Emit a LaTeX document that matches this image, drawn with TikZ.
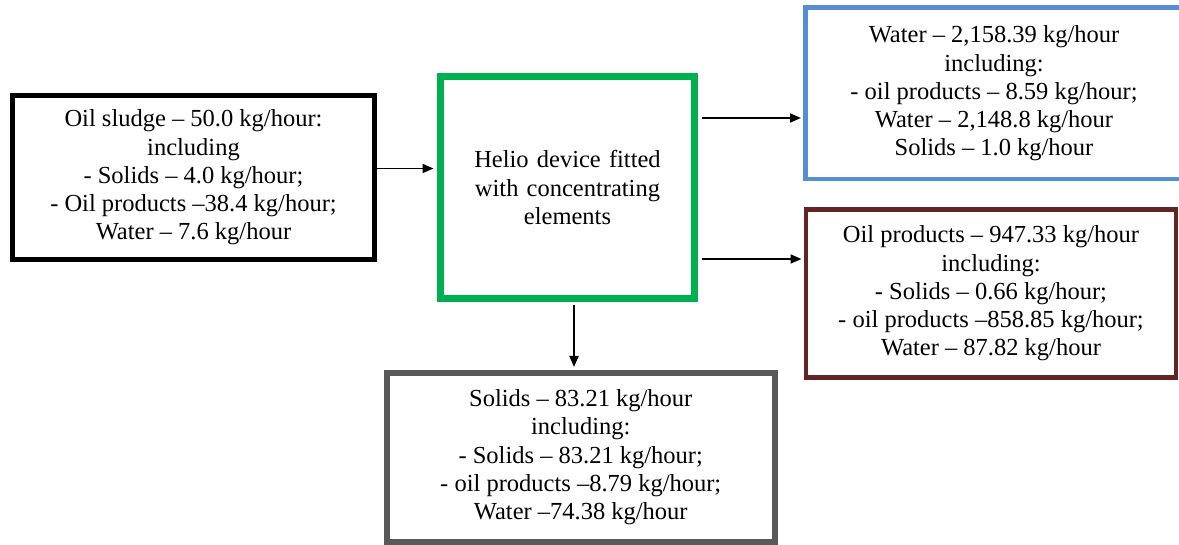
\documentclass[tikz,border=0pt]{standalone}
\usepackage{fontspec}
\setmainfont[Ligatures=TeX]{Liberation Serif}
\usetikzlibrary{arrows.meta}
\definecolor{boxgreen}{HTML}{00B050}
\definecolor{boxblue}{HTML}{558ED5}
\definecolor{boxred}{HTML}{632523}
\definecolor{boxgray}{HTML}{595959}
\tikzset{
  flowbox/.style={draw, fill=white, inner sep=0pt, align=center,
    font=\rmfamily\fontsize{24.5}{28.3}\selectfont},
  arr/.style={line width=1.8pt, -{Triangle[length=11pt,width=9pt]}},
}
\begin{document}
\begin{tikzpicture}[x=1pt,y=-1pt]
\useasboundingbox[fill=white] (0,0) rectangle (1179,545);
\node[flowbox, line width=5pt, minimum width=362pt, minimum height=164pt] (sludge) at (193.5,177.5)
  {Oil sludge – 50.0 kg/hour:\\including\\- Solids – 4.0 kg/hour;\\- Oil products –38.4 kg/hour;\\Water – 7.6 kg/hour};
\node[flowbox, draw=boxgreen, line width=7pt, minimum width=254pt, minimum height=222pt, text width=220pt] (helio) at (567.5,187.5)
  {Helio device fitted\\with concentrating\\elements};
\node[flowbox, draw=boxblue, line width=4.5pt, minimum width=377pt, minimum height=171.5pt] (water) at (994,93.5)
  {Water – 2,158.39 kg/hour\\including:\\- oil products – 8.59 kg/hour;\\Water – 2,148.8 kg/hour\\Solids – 1.0 kg/hour};
\node[flowbox, draw=boxred, line width=4.5pt, minimum width=370pt, minimum height=168pt] (oil) at (991,293.5)
  {Oil products – 947.33 kg/hour\\including:\\- Solids – 0.66 kg/hour;\\- oil products –858.85 kg/hour;\\Water – 87.82 kg/hour};
\node[flowbox, draw=boxgray, line width=6pt, minimum width=388.5pt, minimum height=168.5pt] (solids) at (580.75,457.25)
  {Solids – 83.21 kg/hour\\including:\\- Solids – 83.21 kg/hour;\\- oil products –8.79 kg/hour;\\Water –74.38 kg/hour};
\coordinate (a1) at ([yshift=9pt]sludge.east);
\coordinate (a2) at ([yshift=69.5pt]helio.east);
\coordinate (a3) at ([yshift=-71.5pt]helio.east);
\coordinate (a4) at ([xshift=6.5pt]helio.south);
\draw[arr, shorten >=3.5pt] (a1) -- (a1 -| helio.west);
\draw[arr, shorten <=3.5pt, shorten >=2.25pt] (a2) -- (a2 -| water.west);
\draw[arr, shorten <=3.5pt, shorten >=2.25pt] (a3) -- (a3 -| oil.west);
\draw[arr, shorten <=3.5pt, shorten >=3pt] (a4) -- (a4 |- solids.north);
\end{tikzpicture}
\end{document}
